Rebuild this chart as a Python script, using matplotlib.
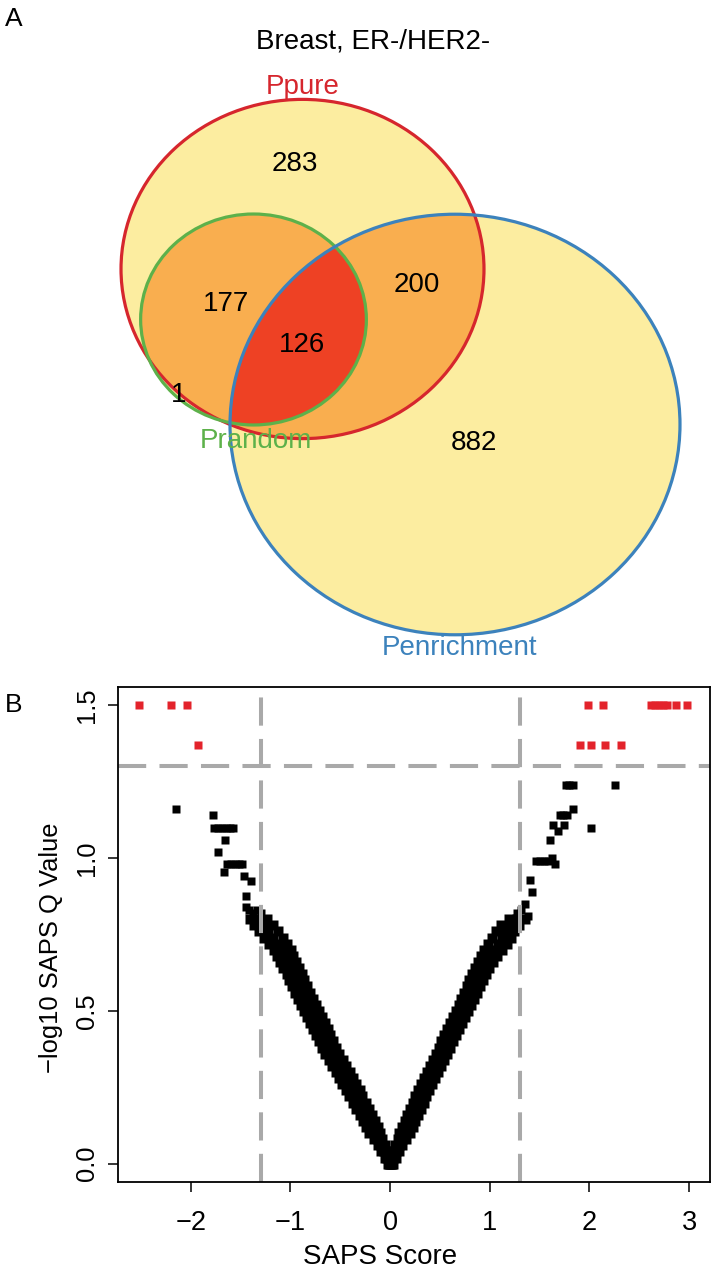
import matplotlib
matplotlib.use('Agg')
import matplotlib.pyplot as plt
import numpy as np
from matplotlib.patches import Ellipse
from matplotlib.colors import ListedColormap

plt.rcParams['font.family'] = ['Liberation Sans', 'DejaVu Sans']

# ---- panel A: Venn region counts ----
only_pure = 283
pure_random = 177
all_three = 126
pure_enrich = 200
only_enrich = 882
only_random = 1

set_names = ['Ppure', 'Prandom', 'Penrichment']
set_sizes = [only_pure + pure_random + all_three + pure_enrich,
             only_random + pure_random + all_three,
             all_three + pure_enrich + only_enrich]

# ---- panel B: SAPS score vs -log10 q ----
# dense V band, read at q levels (three columns across the band)
band_y = [0.00, 0.02, 0.04, 0.06, 0.08, 0.10, 0.12, 0.14, 0.16, 0.18,
          0.20, 0.22, 0.24, 0.26, 0.28, 0.30, 0.32, 0.34, 0.36, 0.38,
          0.40, 0.42, 0.44, 0.46, 0.48, 0.50, 0.52, 0.54, 0.56, 0.58,
          0.60, 0.62, 0.64, 0.66, 0.68, 0.70, 0.72, 0.74, 0.76, 0.78, 0.80]
left_outer = [-0.025, -0.055, -0.09, -0.125, -0.16, -0.21, -0.245, -0.275, -0.305, -0.345,
              -0.375, -0.41, -0.445, -0.48, -0.51, -0.545, -0.58, -0.615, -0.65, -0.68,
              -0.71, -0.74, -0.775, -0.805, -0.835, -0.865, -0.895, -0.925, -0.95, -0.98,
              -1.01, -1.035, -1.07, -1.10, -1.13, -1.165, -1.21, -1.265, -1.32, -1.37, -1.41]
left_mid = [-0.005, -0.03, -0.06, -0.09, -0.12, -0.155, -0.185, -0.215, -0.245, -0.28,
            -0.31, -0.345, -0.375, -0.41, -0.44, -0.475, -0.51, -0.545, -0.58, -0.61,
            -0.64, -0.67, -0.70, -0.73, -0.76, -0.79, -0.82, -0.85, -0.875, -0.905,
            -0.935, -0.96, -0.99, -1.02, -1.05, -1.08, -1.12, -1.17, -1.22, -1.27, -1.32]
left_inner = [0.015, -0.005, -0.03, -0.055, -0.08, -0.10, -0.125, -0.155, -0.185, -0.215,
              -0.245, -0.28, -0.305, -0.34, -0.37, -0.405, -0.44, -0.475, -0.51, -0.54,
              -0.57, -0.60, -0.625, -0.655, -0.685, -0.715, -0.745, -0.775, -0.80, -0.83,
              -0.86, -0.885, -0.91, -0.94, -0.97, -0.995, -1.03, -1.075, -1.12, -1.17, -1.23]
right_inner = [-0.015, 0.005, 0.025, 0.05, 0.075, 0.085, 0.115, 0.145, 0.17, 0.20,
               0.23, 0.255, 0.285, 0.315, 0.345, 0.375, 0.405, 0.435, 0.465, 0.49,
               0.515, 0.54, 0.57, 0.60, 0.63, 0.66, 0.69, 0.715, 0.745, 0.775,
               0.795, 0.825, 0.855, 0.88, 0.91, 0.94, 0.985, 1.025, 1.06, 1.11, 1.19]
right_mid = [0.005, 0.03, 0.055, 0.085, 0.115, 0.14, 0.17, 0.20, 0.225, 0.255,
             0.285, 0.31, 0.34, 0.37, 0.40, 0.43, 0.46, 0.49, 0.52, 0.545,
             0.575, 0.60, 0.63, 0.66, 0.69, 0.72, 0.75, 0.78, 0.81, 0.84,
             0.865, 0.895, 0.925, 0.955, 0.99, 1.03, 1.08, 1.12, 1.15, 1.20, 1.27]
right_outer = [0.025, 0.055, 0.085, 0.12, 0.155, 0.195, 0.225, 0.255, 0.28, 0.31,
               0.34, 0.365, 0.395, 0.425, 0.455, 0.485, 0.515, 0.545, 0.575, 0.60,
               0.635, 0.66, 0.69, 0.72, 0.75, 0.78, 0.81, 0.845, 0.875, 0.905,
               0.935, 0.965, 0.995, 1.03, 1.07, 1.12, 1.175, 1.215, 1.24, 1.29, 1.35]

# sparse tails
tail_x = [-2.15, -1.78, -1.77, -1.73, -1.69, -1.65, -1.61, -1.58, -1.66, -1.73,
          -1.64, -1.60, -1.56, -1.52, -1.49, -1.67, -1.47, -1.40, -1.45, -1.45,
          -1.42, -1.38, -1.34, -1.30,
          1.77, 1.80, 1.84, 2.26, 1.84, 1.70, 1.74, 1.78, 1.63, 1.75,
          1.68, 2.02, 1.60, 1.46, 1.50, 1.54, 1.58, 1.62, 1.65, 1.40,
          1.42, 1.35, 1.27, 1.31, 1.38]
tail_y = [1.16, 1.14, 1.10, 1.10, 1.10, 1.10, 1.10, 1.10, 1.06, 1.02,
          0.98, 0.98, 0.98, 0.98, 0.98, 0.955, 0.94, 0.925, 0.876, 0.84,
          0.83, 0.82, 0.83, 0.82,
          1.24, 1.24, 1.24, 1.24, 1.16, 1.14, 1.14, 1.14, 1.11, 1.11,
          1.09, 1.10, 1.06, 0.99, 0.99, 0.99, 0.99, 1.00, 0.98, 0.93,
          0.89, 0.85, 0.82, 0.83, 0.81]

# significant (q < 0.05)
sig_x = [-2.52, -2.20, -2.04, 1.99, 2.14, 2.62, 2.66, 2.70, 2.74, 2.78, 2.87, 2.98,
         -1.93, 1.91, 2.02, 2.16, 2.32]
sig_y = [1.50, 1.50, 1.50, 1.50, 1.50, 1.50, 1.50, 1.50, 1.50, 1.50, 1.50, 1.50,
         1.37, 1.37, 1.37, 1.37, 1.37]

score_cut = 1.3
q_cut = 1.301

W, H = 718, 1273
fig = plt.figure(figsize=(W / 100, H / 100), dpi=100)

# ================= panel A =================
VH = 680
axv = fig.add_axes([0, 1 - VH / H, 1, VH / H])
axv.set_xlim(0, W)
axv.set_ylim(VH, 0)
axv.axis('off')

centers = [(302.5, 269.0), (253.5, 319.5), (455.0, 424.5)]
edge_cols = ['#D6262D', '#5DB14A', '#3C82BC']
k = 6.05        # px per sqrt(count)
stretch = 1.07  # horizontal stretch of the circles

xx, yy = np.meshgrid(np.arange(W) + 0.5, np.arange(VH) + 0.5)
inside = np.zeros((VH, W), dtype=int)
for (cx, cy), n in zip(centers, set_sizes):
    b = k * np.sqrt(n)
    a = b * stretch
    inside += (((xx - cx) / a) ** 2 + ((yy - cy) / b) ** 2 <= 1).astype(int)
fills = ListedColormap(['white', '#FCEDA0', '#F9AE4F', '#EE4124'])
axv.imshow(inside, cmap=fills, vmin=-0.5, vmax=3.5, extent=(0, W, VH, 0),
           interpolation='nearest', aspect='auto')

for (cx, cy), n, col in zip(centers, set_sizes, edge_cols):
    b = k * np.sqrt(n)
    axv.add_patch(Ellipse((cx, cy), 2 * b * stretch, 2 * b, fill=False,
                          edgecolor=col, lw=2.3))

fs = 20
axv.text(373, 42, 'Breast, ER-/HER2-', fontsize=fs, ha='center', va='center')
axv.text(303, 87, set_names[0], color=edge_cols[0], fontsize=fs, ha='center', va='center')
axv.text(256, 441, set_names[1], color=edge_cols[1], fontsize=fs, ha='center', va='center')
axv.text(460, 648, set_names[2], color=edge_cols[2], fontsize=fs, ha='center', va='center')
for val, (tx, ty) in zip([only_pure, pure_random, all_three, pure_enrich, only_enrich, only_random],
                         [(295, 164), (226, 304), (302, 345), (417, 285), (474, 443), (179, 395)]):
    axv.text(tx, ty, str(val), fontsize=fs, ha='center', va='center')

fig.text(14 / W, 1 - 19 / H, 'A', fontsize=19, ha='center', va='center')
fig.text(14 / W, 1 - 705 / H, 'B', fontsize=19, ha='center', va='center')

# ================= panel B =================
ax = fig.add_axes([118 / W, (H - 1182) / H, (710 - 118) / W, (1182 - 687) / H])
for xs in [left_outer, left_mid, left_inner, right_inner, right_mid, right_outer]:
    ax.plot(xs, band_y, 's', ms=6.8, color='black', mec='none')
ax.plot(tail_x, tail_y, 's', ms=5.5, color='black', mec='none')
ax.plot(sig_x, sig_y, 's', ms=5.6, color='#E3232B', mec='none')

for v in [-score_cut, score_cut]:
    ax.axvline(v, color='#A9A9A9', lw=2.9, dashes=(7, 3.3))
ax.axhline(q_cut, color='#A9A9A9', lw=2.9, dashes=(7, 3.3))

ax.set_xlim(-2.73, 3.21)
ax.set_ylim(-0.06, 1.56)
ax.set_xticks([-2, -1, 0, 1, 2, 3])
ax.set_xticklabels(['\u22122', '\u22121', '0', '1', '2', '3'], fontsize=19.5)
ax.set_yticks([0.0, 0.5, 1.0, 1.5])
ax.set_yticklabels(['0.0', '0.5', '1.0', '1.5'], rotation=90, va='center', fontsize=18.4)
ax.tick_params(axis='both', direction='out', length=7, width=1.1)
ax.tick_params(axis='x', pad=13.5)
ax.tick_params(axis='y', pad=7)
for sp in ax.spines.values():
    sp.set_linewidth(1.3)

fig.text(380 / W, 1 - 1257 / H, 'SAPS Score', fontsize=20, ha='center', va='center')
fig.text(51 / W, 1 - 948 / H, '\u2212log10 SAPS Q Value', fontsize=18.4,
         ha='center', va='center', rotation=90)

fig.savefig('out.png', dpi=100)
